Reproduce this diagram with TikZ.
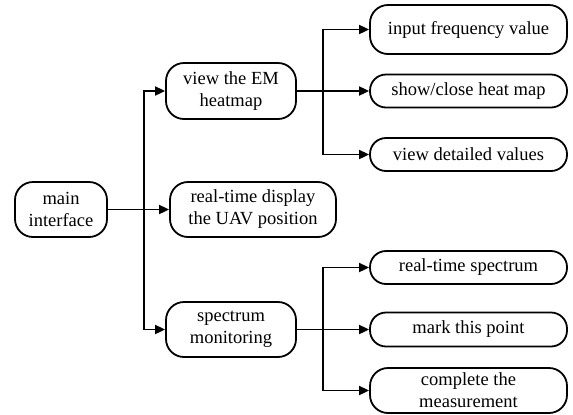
\documentclass[tikz,border=0pt]{standalone}
\usepackage{fontspec}
\setmainfont{Liberation Serif}
\usetikzlibrary{arrows.meta}
\begin{document}
\begin{tikzpicture}[x=1bp,y=-1bp,
  box/.style={draw, line width=1.8bp, rounded corners=18bp, align=center, inner sep=0pt,
    font=\fontsize{18.5bp}{22bp}\selectfont},
  slim/.style={box, rounded corners=16bp},
  conn/.style={line width=1.8bp},
  arr/.style={conn, -{Triangle[length=10bp,width=9bp]}}]
\useasboundingbox (0,0) rectangle (573,414);
\node[box, minimum width=92bp, minimum height=55bp] (main) at (61,209.5) {main\\interface};
\node[box, minimum width=130bp, minimum height=56bp] (em) at (231,91) {view the EM\\heatmap};
\node[box, minimum width=166bp, minimum height=55bp] (rt) at (253,209.5) {real-time display\\the UAV position};
\node[box, minimum width=130bp, minimum height=55bp] (sm) at (231,329.5) {spectrum\\monitoring};
\node[box, minimum width=197bp, minimum height=49bp] (ifv) at (468.5,29.5) {input frequency value};
\node[slim, minimum width=197bp, minimum height=33bp] (sch) at (468.5,91) {show/close heat map};
\node[slim, minimum width=197bp, minimum height=33bp] (vdv) at (468.5,154.5) {view detailed values};
\node[slim, minimum width=197bp, minimum height=33bp] (rts) at (468.5,267.5) {real-time spectrum};
\node[slim, minimum width=197bp, minimum height=34bp] (mtp) at (468.5,329.5) {mark this point};
\node[box, minimum width=197bp, minimum height=45bp] (ctm) at (468.5,390.5) {complete the\\measurement};
\coordinate (j1) at (144,209.5);
\coordinate (j2) at (323,91);
\coordinate (j3) at (323,329.5);
\draw[arr] (main.east) -- (rt.west);
\draw[arr] (j1) |- (em.west);
\draw[arr] (j1) |- (sm.west);
\draw[arr] (em.east) -- (sch.west);
\draw[arr] (j2) |- (ifv.west);
\draw[arr] (j2) |- (vdv.west);
\draw[arr] (sm.east) -- (mtp.west);
\draw[arr] (j3) |- (rts.west);
\draw[arr] (j3) |- (ctm.west);
\end{tikzpicture}
\end{document}
